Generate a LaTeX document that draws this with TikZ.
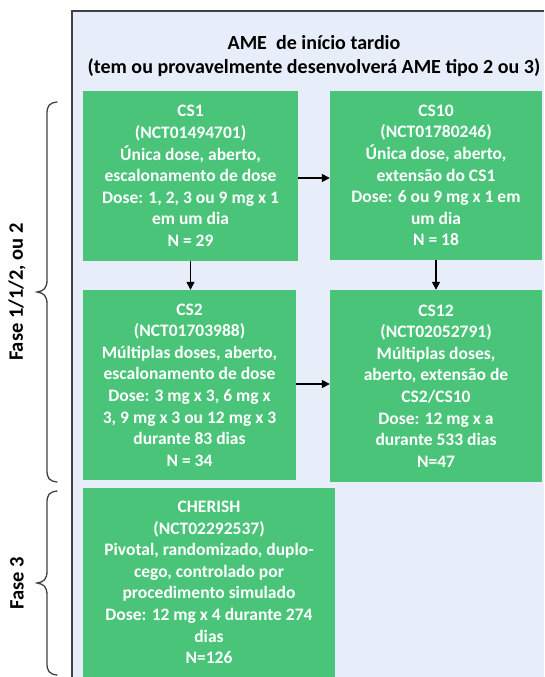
\documentclass[tikz,border=0pt]{standalone}
\usepackage{fontspec}
\setmainfont{Carlito}
\usetikzlibrary{arrows.meta}
\definecolor{studygreen}{RGB}{74,196,120}
\definecolor{panelblue}{RGB}{232,238,249}
\definecolor{framegray}{RGB}{64,64,64}
\tikzset{
  study/.style={fill=studygreen, draw=none, inner sep=0pt, align=center,
    text=white, font=\fontsize{17.5}{21.6}\selectfont\bfseries},
  flow/.style={line width=1.4pt, -{Triangle[length=8pt,width=8pt]}},
  bracepath/.style={line width=1.3pt, framegray, line cap=round},
  phase/.style={font=\fontsize{20.5}{24}\selectfont\bfseries, rotate=90}
}
\begin{document}
\begin{tikzpicture}[x=1pt,y=-1pt]
\useasboundingbox (0,0) rectangle (544,677);
% panel background and its frame
\fill[panelblue] (72,11) rectangle (544,677);
\draw[framegray, line width=1.4pt] (72,677) -- (72,11) -- (544,11);

% title
\node[font=\fontsize{20}{24}\selectfont\bfseries, align=center] (title) at (314,56)
  {AME\ \ de início tardio\\(tem ou provavelmente desenvolverá AME tipo 2 ou 3)};

% studies
\node[study, minimum width=215pt, minimum height=170pt] (cs1) at (190.5,176)
  {CS1\\(NCT01494701)\\Única dose, aberto,\\escalonamento de dose\\Dose: 1, 2, 3 ou 9 mg x 1\\em um dia\\N = 29};
\node[study, minimum width=212pt, minimum height=169pt] (cs10) at (436,175.5)
  {CS10\\(NCT01780246)\\Única dose, aberto,\\extensão do CS1\\Dose: 6 ou 9 mg x 1 em\\um dia\\N = 18};
\node[study, minimum width=213pt, minimum height=190pt] (cs2) at (189.5,385)
  {CS2\\(NCT01703988)\\Múltiplas doses, aberto,\\escalonamento de dose\\Dose: 3 mg x 3, 6 mg x\\3, 9 mg x 3 ou 12 mg x 3\\durante 83 dias\\N = 34};
\node[study, minimum width=212pt, minimum height=192pt] (cs12) at (436,386)
  {CS12\\(NCT02052791)\\Múltiplas doses,\\aberto, extensão de\\CS2/CS10\\Dose: 12 mg x a\\durante 533 dias\\N=47};
\node[study, minimum width=252pt, minimum height=189pt] (cherish) at (209,582.5)
  {CHERISH\\(NCT02292537)\\Pivotal, randomizado, duplo-\\cego, controlado por\\procedimento simulado\\Dose: 12 mg x 4 durante 274\\dias\\N=126};

% connectors
\draw[flow] (cs1.east |- 0,178) -- (cs10.west |- 0,178);
\draw[flow] (cs1.south) -- (cs2.north -| cs1.south);
\draw[flow] (cs10.south) -- (cs12.north -| cs10.south);
\draw[flow] (cs2.east |- 0,384) -- (cs12.west |- 0,384);

% phase braces
\draw[bracepath] (57,102) .. controls (49,103) and (47,106) .. (47,114) -- (47,280)
  .. controls (47,288) and (44,291) .. (37,292)
  .. controls (44,293) and (47,296) .. (47,304) -- (47,470)
  .. controls (47,478) and (49,481) .. (57,482);
\draw[bracepath] (57,491) .. controls (49,492) and (47,495) .. (47,503) -- (47,571)
  .. controls (47,579) and (44,582) .. (37,583)
  .. controls (44,584) and (47,587) .. (47,595) -- (47,663)
  .. controls (47,671) and (49,674) .. (57,675);

\node[phase] (phaseA) at (17,292) {Fase 1/1/2, ou 2};
\node[phase] (phaseB) at (17,583) {Fase 3};
\end{tikzpicture}
\end{document}
